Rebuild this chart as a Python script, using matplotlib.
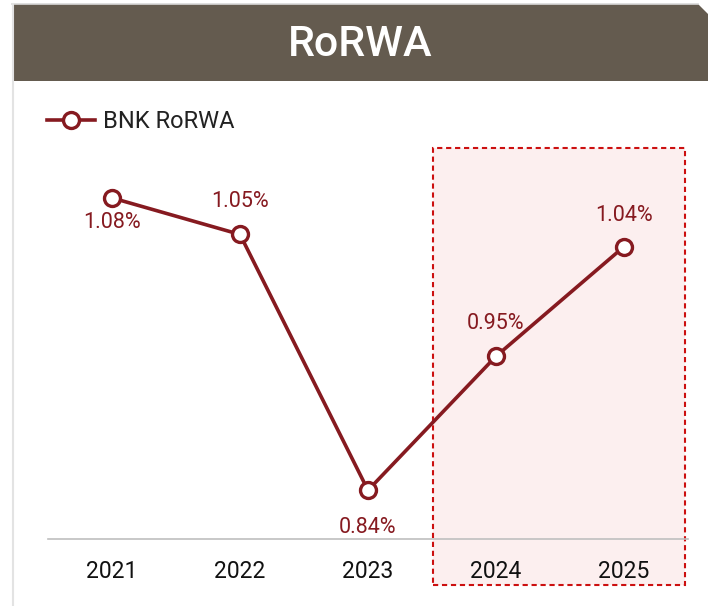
import matplotlib
matplotlib.use("Agg")
import matplotlib.pyplot as plt
from matplotlib.patches import Rectangle, Polygon
import matplotlib.transforms as mtransforms

# ---- data ----
years = ["2021", "2022", "2023", "2024", "2025"]
rorwa = [1.08, 1.05, 0.84, 0.95, 1.04]
label_pos = ["below", "above", "below", "above", "above"]
series_name = "BNK RoRWA"
title = "RoRWA"
highlight_years = ["2024", "2025"]

LINE = "#861a20"
BAR = "#645b4f"
FONT = ["Roboto", "DejaVu Sans"]
plt.rcParams["font.family"] = FONT

W, H = 708, 606
fig = plt.figure(figsize=(W / 100, H / 100), dpi=100)
fig.patch.set_facecolor("white")

def fx(px):
    return px / W

def fy(py):
    return 1 - py / H

bar = Polygon([(fx(12), fy(4)), (fx(698), fy(4)), (fx(708), fy(14)),
               (fx(708), fy(81)), (fx(12), fy(81))],
              closed=True, transform=fig.transFigure, facecolor=BAR,
              edgecolor="none", zorder=1)
fig.patches.append(bar)
fig.lines.append(plt.Line2D([fx(12), fx(698)], [fy(3.5), fy(3.5)],
                            transform=fig.transFigure, color="#d9d9d9", lw=1.2))
fig.lines.append(plt.Line2D([fx(12.5), fx(12.5)], [fy(4), fy(606)],
                            transform=fig.transFigure, color="#e3e3e3", lw=1.5))
fig.text(fx(360), fy(44), title, ha="center", va="center", color="white",
         fontsize=31, fontweight="medium", family=FONT)

ax = fig.add_axes([fx(48), fy(539), fx(688) - fx(48), fy(137) - fy(539)])
x = list(range(len(years)))
ax.set_xlim(-0.5, len(years) - 0.5)
ax.set_ylim(0.80, 1.13)
for s in ["top", "right", "left"]:
    ax.spines[s].set_visible(False)
ax.spines["bottom"].set_color("#bfbfbf")
ax.spines["bottom"].set_linewidth(1.2)
ax.set_yticks([])
ax.set_xticks(x)
ax.set_xticklabels(years, fontsize=16.5, color="#111111")
ax.tick_params(axis="x", length=0, pad=15)
ax.patch.set_alpha(0)

hi = [years.index(y) for y in highlight_years]
trans = mtransforms.blended_transform_factory(ax.transData, ax.transAxes)
x0 = min(hi) - 0.49
x1 = max(hi) + 0.48
rect = Rectangle((x0, -0.114), x1 - x0, 1.087, transform=trans,
                 facecolor="#fcefef", edgecolor="#cc1010", lw=1.5,
                 linestyle=(0, (2.5, 1.8)), clip_on=False, zorder=0)
ax.add_patch(rect)

ax.plot(x, rorwa, color=LINE, lw=2.6, marker="o", markersize=11.5,
        markerfacecolor="white", markeredgecolor=LINE, markeredgewidth=2.4,
        zorder=3, clip_on=False, label=series_name)

# label offsets (points) — first label sits tighter under its marker
offsets = [-10, 16, -19, 16, 15]
for xi, v, pos, off in zip(x, rorwa, label_pos, offsets):
    ax.annotate(f"{v:.2f}%", (xi, v), xytext=(0, off), textcoords="offset points",
                ha="center", va="bottom" if pos == "above" else "top",
                fontsize=15.5, color=LINE, zorder=4)

leg = ax.legend(loc="upper left", bbox_to_anchor=(fx(38), fy(101)),
                bbox_transform=fig.transFigure, frameon=False, fontsize=17,
                handlelength=2.0, handletextpad=0.35, borderaxespad=0)
for t in leg.get_texts():
    t.set_color("#222222")

fig.savefig("out.png", dpi=100)
